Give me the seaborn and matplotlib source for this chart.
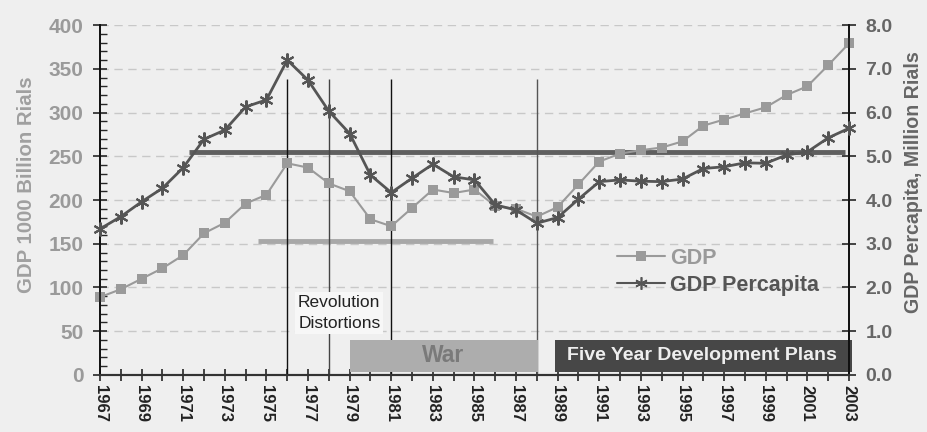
import matplotlib.pyplot as plt
import matplotlib.lines as mlines
import matplotlib.patches as mpatches
import numpy as np
import pandas as pd
import seaborn as sns

years = list(range(1967, 2004))
gdp = [89, 98, 110, 122, 137, 162, 174, 196, 206, 242, 237, 219, 210, 178,
       170, 191, 212, 208, 212, 193, 190, 181, 192, 218, 244, 253, 257, 260,
       267, 285, 292, 299, 306, 320, 330, 354, 379]
gdp_pc = [3.34, 3.62, 3.96, 4.27, 4.74, 5.39, 5.60, 6.13, 6.29, 7.20, 6.74,
          6.03, 5.52, 4.57, 4.17, 4.50, 4.82, 4.53, 4.46, 3.89, 3.77, 3.47,
          3.60, 4.02, 4.42, 4.46, 4.43, 4.42, 4.48, 4.72, 4.76, 4.85, 4.84,
          5.03, 5.10, 5.42, 5.64]
event_years = [1976, 1978, 1981, 1988]

df = pd.DataFrame({"year": years, "gdp": gdp, "gdp_pc": gdp_pc})

sns.set_theme(style="white")
plt.rcParams["font.family"] = ["Liberation Sans", "DejaVu Sans"]

fig = plt.figure(figsize=(9.28, 4.32), dpi=100, facecolor="#efefef")
ax = fig.add_axes([0.1078, 0.132, 0.807, 0.81])
ax.set_facecolor("#efefef")
ax2 = ax.twinx()

light = "#9a9a9a"
dark = "#555555"

# grid
for v in range(50, 401, 50):
    ax.axhline(v, color="#c8c8c8", lw=1, ls=(0, (6, 4)), zorder=0)

# reference lines
ax.hlines(255, 1971.3, 2002.8, color="#5f5f5f", lw=3.5, zorder=2)
ax.hlines(153, 1974.6, 1985.9, color="#a8a8a8", lw=3.5, zorder=2)
ax.vlines(event_years, 0, 338, colors=["#111111", "#444444", "#111111", "#555555"],
          lw=1, zorder=2)

sns.lineplot(x="year", y="gdp", data=df, ax=ax, color=light, lw=1.5,
             marker="s", markersize=6.5, markeredgewidth=0, zorder=3, clip_on=False)
sns.lineplot(x="year", y="gdp_pc", data=df, ax=ax2, color=dark, lw=2,
             marker=(6, 2, 0), markersize=10, markeredgewidth=1.5,
             markeredgecolor=dark, zorder=3, clip_on=False)

# period boxes
ax.add_patch(mpatches.Rectangle((1979, 3), 9.05, 37, facecolor="#adadad",
                                edgecolor="none", zorder=2))
ax.text(1983.5, 22, "War", ha="center", va="center", fontsize=16.5,
        fontweight="bold", color="#7a7a7a", zorder=3)
ax.add_patch(mpatches.Rectangle((1988.85, 3), 14.3, 37, facecolor="#474747",
                                edgecolor="none", zorder=2, clip_on=False))
ax.text(1995.95, 22, "Five Year Development Plans", ha="center", va="center",
        fontsize=14, fontweight="bold", color="#eeeeee", zorder=3)
ax.text(1978.5, 71, "Revolution\nDistortions", ha="center", va="center",
        fontsize=12.5, color="#222222", linespacing=1.55, zorder=3,
        bbox=dict(facecolor="#f7f7f7", edgecolor="none", pad=2))

# axes
ax.set_xlim(1967, 2003)
ax.set_ylim(0, 400)
ax2.set_ylim(0, 8)
ax.set_xticks(years)
ax.set_xticklabels([str(y) if (y - 1967) % 2 == 0 else "" for y in years],
                   rotation=-90, fontsize=12, fontweight="bold", color="#222222")
ax.set_yticks(range(0, 401, 50))
ax.set_yticks(range(0, 401, 10), minor=True)
ax.set_yticklabels([str(v) for v in range(0, 401, 50)], fontsize=15,
                   fontweight="bold", color=light)
ax2.set_yticks(np.arange(0, 8.1, 1.0))
ax2.set_yticklabels([f"{v:.1f}" for v in np.arange(0, 8.1, 1.0)], fontsize=14,
                    fontweight="bold", color="#666666")
ax.tick_params(axis="x", direction="inout", length=8, width=1.2, pad=3, bottom=True)
ax.tick_params(axis="y", which="major", direction="inout", length=10, width=1.2,
               pad=7, left=True)
ax.tick_params(axis="y", which="minor", direction="in", length=5, width=1, left=True)
ax2.tick_params(axis="y", direction="inout", length=10, width=1.2, pad=7, right=True)

for a in (ax, ax2):
    a.spines["top"].set_visible(False)
    a.spines["left"].set_color("#111111")
    a.spines["right"].set_color("#111111")
    a.spines["bottom"].set_color("#333333")
    a.spines["bottom"].set_linewidth(1.5)
    a.grid(False)

ax.set_xlabel(None)
ax.set_ylabel("GDP 1000 Billion Rials", fontsize=14.7, fontweight="bold",
              color="#a0a0a0")
ax.yaxis.set_label_coords(-0.0855, 0.543)
ax2.set_ylabel("GDP Percapita, Million Rials", fontsize=14.1, fontweight="bold",
               color="#666666")
ax2.yaxis.set_label_coords(1.0734, 0.551)

# legend
h1 = mlines.Line2D([], [], color=light, lw=1.5, marker="s", markersize=6.5,
                   markeredgewidth=0)
h2 = mlines.Line2D([], [], color=dark, lw=1.5, marker=(6, 2, 0), markersize=9,
                   markeredgewidth=1.2)
leg = ax2.legend([h1, h2], ["GDP", "GDP Percapita"], loc="center left",
                 bbox_to_anchor=(0.665, 0.295), frameon=False, handlelength=2.2,
                 handletextpad=0.25, labelspacing=0.3,
                 prop={"size": 15.5, "weight": "bold"})
leg.get_texts()[0].set_color(light)
leg.get_texts()[1].set_color(dark)

fig.savefig("out.png", dpi=100, facecolor=fig.get_facecolor())
